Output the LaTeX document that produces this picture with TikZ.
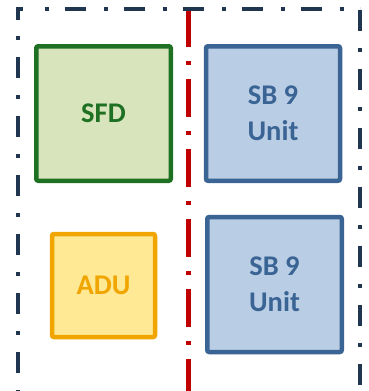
\documentclass[tikz,border=0pt]{standalone}
\usepackage{fontspec}
\setmainfont{Carlito}
\definecolor{navy}{HTML}{1F3550}
\definecolor{redl}{HTML}{C00000}
\definecolor{gborder}{HTML}{1E7023}
\definecolor{gfill}{HTML}{D8E4BC}
\definecolor{bborder}{HTML}{3A6494}
\definecolor{bfill}{HTML}{B9CDE5}
\definecolor{yborder}{HTML}{F0A500}
\definecolor{yfill}{HTML}{FFE994}
\begin{document}
\begin{tikzpicture}[x=1pt,y=-1pt,
  box/.style={draw, line width=4.5pt, rounded corners=2pt, font=\bfseries\fontsize{28.5}{36}\selectfont, align=center, inner sep=0pt},
  edge/.style={draw=navy, line width=4pt},
  divider/.style={draw=redl, line width=4.5pt, dash pattern=on 38pt off 14pt on 4pt off 14pt}]
\useasboundingbox (0,0) rectangle (368,391);
% red divider
\coordinate (dtop) at (188.5,9);
\coordinate (dbot) at (188.5,400);
\path[divider] (dtop) -- (dbot);
% outer dash-dot frame
\coordinate (tl) at (17.5,9);
\coordinate (tr) at (359.5,9);
\coordinate (br) at (359.5,392.5);
\coordinate (bl) at (17.5,392.5);
\coordinate (c1) at (17.5,19.5);
\coordinate (c2) at (22.5,9);
\coordinate (l0) at (17.5,36);
\coordinate (t0) at (44.5,9);
\path[edge] (c1) -- (tl) -- (c2);
\path[edge, dash pattern=on 4pt off 17pt on 21pt off 17pt] (l0) -- (bl);
\path[edge, dash pattern=on 4pt off 16pt on 21pt off 18pt] (t0) -- (tr);
\path[edge, dash pattern=on 21pt off 17pt on 4pt off 17pt] ([yshift=-0.5pt]tr) -- (br);
\path[edge, dash pattern=on 21pt off 17pt on 4pt off 16pt] ([xshift=1.5pt]bl) -- (br);
% boxes
\node[box, draw=gborder, fill=gfill, text=gborder, minimum width=134.5pt, minimum height=134.5pt] (sfd) at (103.5,113.5) {SFD};
\node[box, draw=bborder, fill=bfill, text=bborder, minimum width=134pt, minimum height=134.5pt] (sb1) at (273,113.5) {SB 9\\Unit};
\node[box, draw=yborder, fill=yfill, text=yborder, minimum width=103pt, minimum height=103pt] (adu) at (103.5,285.5) {ADU};
\node[box, draw=bborder, fill=bfill, text=bborder, minimum width=134.5pt, minimum height=135pt] (sb2) at (274.5,284.5) {SB 9\\Unit};
\end{tikzpicture}
\end{document}
